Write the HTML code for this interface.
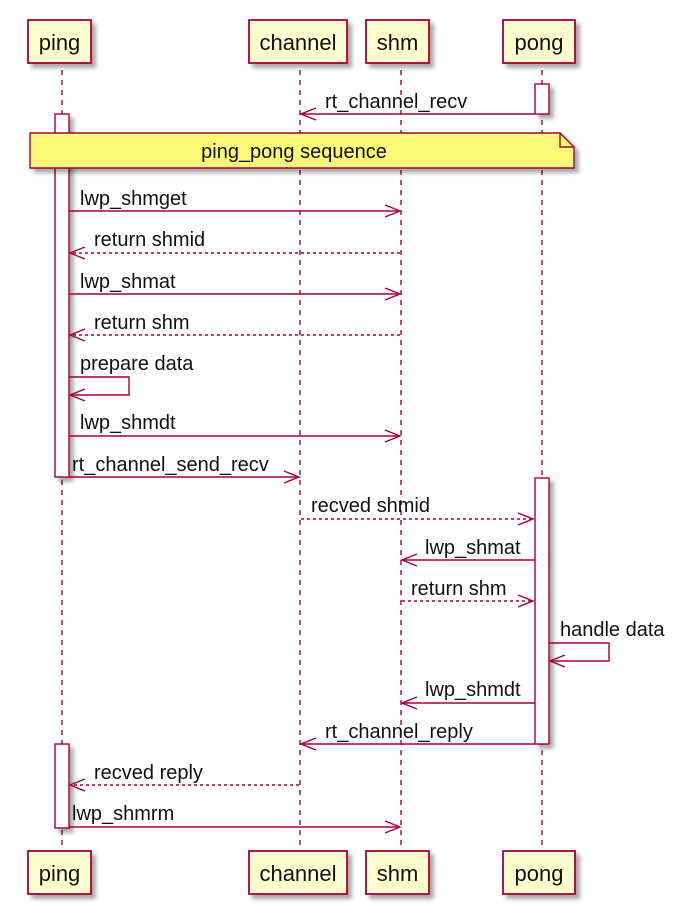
<!DOCTYPE html>
<html><head><style>
html,body{margin:0;padding:0;background:#fff;}
svg{display:block;}
text{font-family:"Liberation Sans",sans-serif;font-size:20px;fill:#111;}
</style></head><body>
<svg width="700" height="917" viewBox="0 0 700 917" xmlns="http://www.w3.org/2000/svg">
<defs>
<filter id="sh" x="-20%" y="-20%" width="150%" height="150%"><feDropShadow dx="4" dy="4" stdDeviation="2" flood-color="#000" flood-opacity="0.35"/></filter>
</defs>
<g stroke="#A80036" stroke-width="1.4" stroke-dasharray="5,5" fill="none">
<line x1="62" y1="70" x2="62" y2="845"/>
<line x1="300" y1="70" x2="300" y2="845"/>
<line x1="401" y1="70" x2="401" y2="845"/>
<line x1="542" y1="70" x2="542" y2="845"/>
</g>
<g fill="#FEFECE" stroke="#A80036" stroke-width="1.8" filter="url(#sh)">
<rect x="28" y="20" width="63" height="43"/>
<rect x="249" y="20" width="98" height="43"/>
<rect x="366" y="20" width="63" height="43"/>
<rect x="503" y="20" width="72" height="43"/>
<rect x="28" y="851" width="63" height="43"/>
<rect x="249" y="851" width="98" height="43"/>
<rect x="366" y="851" width="63" height="43"/>
<rect x="503" y="851" width="72" height="43"/>
</g>
<g text-anchor="middle">
<text x="59.5" y="50" style="font-size:22px">ping</text>
<text x="298" y="50" style="font-size:22px">channel</text>
<text x="397.5" y="50" style="font-size:22px">shm</text>
<text x="539" y="50" style="font-size:22px">pong</text>
<text x="59.5" y="881" style="font-size:22px">ping</text>
<text x="298" y="881" style="font-size:22px">channel</text>
<text x="397.5" y="881" style="font-size:22px">shm</text>
<text x="539" y="881" style="font-size:22px">pong</text>
</g>
<g fill="#fff" stroke="#A80036" stroke-width="1.4" filter="url(#sh)">
<rect x="535" y="84" width="14" height="30"/>
<rect x="55" y="114" width="14" height="363"/>
<rect x="535" y="478" width="14" height="266"/>
<rect x="55" y="744" width="14" height="84"/>
</g>
<path d="M30,133 H560 L574,147 V168 H30 Z" fill="#FBFB77" stroke="#A80036" stroke-width="1.4" filter="url(#sh)"/>
<path d="M560,133 V147 H574" fill="none" stroke="#A80036" stroke-width="1.4"/>
<text x="294" y="158" text-anchor="middle">ping_pong sequence</text>
<g stroke="#A80036" stroke-width="1.4" fill="none">
<line x1="535" y1="114" x2="301" y2="114"/><path d="M316,108 L301,114 L316,120"/>
<line x1="69" y1="211" x2="400" y2="211"/><path d="M385,205 L400,211 L385,217"/>
<line x1="69" y1="294" x2="400" y2="294"/><path d="M385,288 L400,294 L385,300"/>
<path d="M69,377 H129 V395 H70"/><path d="M85,389 L70,395 L85,401"/>
<line x1="69" y1="436" x2="400" y2="436"/><path d="M385,430 L400,436 L385,442"/>
<line x1="69" y1="477" x2="299" y2="477"/><path d="M284,471 L299,477 L284,483"/>
<line x1="535" y1="560" x2="402" y2="560"/><path d="M417,554 L402,560 L417,566"/>
<path d="M549,643 H609 V661 H550"/><path d="M565,655 L550,661 L565,667"/>
<line x1="535" y1="703" x2="402" y2="703"/><path d="M417,697 L402,703 L417,709"/>
<line x1="535" y1="744" x2="301" y2="744"/><path d="M316,738 L301,744 L316,750"/>
<line x1="69" y1="827" x2="400" y2="827"/><path d="M385,821 L400,827 L385,833"/>
<g stroke-dasharray="3,3">
<line x1="400" y1="253" x2="70" y2="253"/>
<line x1="400" y1="335" x2="70" y2="335"/>
<line x1="301" y1="519" x2="533" y2="519"/>
<line x1="402" y1="601" x2="533" y2="601"/>
<line x1="299" y1="785" x2="70" y2="785"/>
</g>
<path d="M85,247 L70,253 L85,259"/>
<path d="M85,329 L70,335 L85,341"/>
<path d="M518,513 L533,519 L518,525"/>
<path d="M518,595 L533,601 L518,607"/>
<path d="M85,779 L70,785 L85,791"/>
</g>
<text x="325" y="108">rt_channel_recv</text>
<text x="80" y="205">lwp_shmget</text>
<text x="94" y="246">return shmid</text>
<text x="80" y="288">lwp_shmat</text>
<text x="94" y="329">return shm</text>
<text x="80" y="370">prepare data</text>
<text x="80" y="429">lwp_shmdt</text>
<text x="72" y="471">rt_channel_send_recv</text>
<text x="311" y="512">recved shmid</text>
<text x="425" y="554">lwp_shmat</text>
<text x="411" y="595">return shm</text>
<text x="560" y="636">handle data</text>
<text x="425" y="696">lwp_shmdt</text>
<text x="325" y="738">rt_channel_reply</text>
<text x="94" y="779">recved reply</text>
<text x="72" y="820">lwp_shmrm</text>
</svg>
</body></html>
